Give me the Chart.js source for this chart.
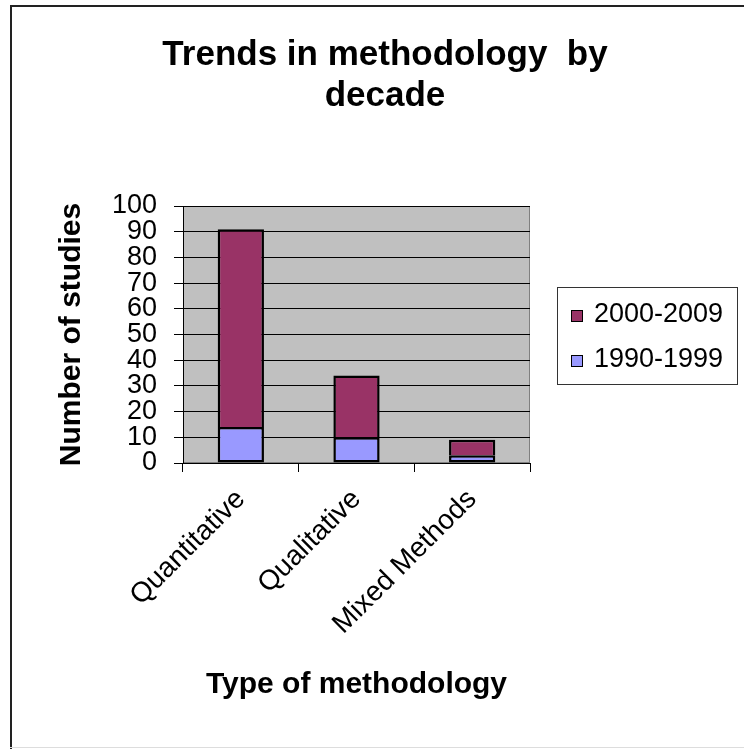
<!DOCTYPE html>
<html>
<head>
<meta charset="utf-8">
<title>Trends in methodology by decade</title>
<script src="https://cdn.jsdelivr.net/npm/chart.js@4.4.1/dist/chart.umd.min.js"></script>
<style>
    body { margin: 0; background: #ffffff; }
    #wrap { width: 744px; height: 749px; }
</style>
</head>
<body>
<div id="wrap"><canvas id="trendChart" width="744" height="749"></canvas></div>
<script>
// Chart data
const categories = ["Quantitative", "Qualitative", "Mixed Methods"];
const seriesLabels = ["1990-1999", "2000-2009"];
const studies1990s = [14, 10, 3];
const studies2000s = [77, 24, 6];
const seriesColors = ["#9999ff", "#993366"];
const yMin = 0;
const yMax = 100;
const yStep = 10;

const FONT = "'Liberation Sans', Arial, sans-serif";

// White page, thin frame and the grey plot area behind the bars
const backgroundPlugin = {
    id: "background",
    beforeDraw(chart) {
        const ctx = chart.ctx;
        const area = chart.chartArea;
        ctx.save();
        ctx.fillStyle = "#ffffff";
        ctx.fillRect(0, 0, chart.width, chart.height);

        // frame round the picture (left and top dark, bottom faint)
        ctx.fillStyle = "#222222";
        ctx.fillRect(10, 5, chart.width - 10, 2);
        ctx.fillRect(10, 5, 2, chart.height - 5);
        ctx.fillStyle = "#dddddd";
        ctx.fillRect(10, chart.height - 2, chart.width - 10, 1);

        ctx.fillStyle = "#c0c0c0";
        ctx.fillRect(area.left, area.top, area.right - area.left, area.bottom - area.top);
        ctx.strokeStyle = "#808080";
        ctx.lineWidth = 1;
        ctx.strokeRect(area.left + 0.5, area.top + 0.5, area.right - area.left - 1, area.bottom - area.top - 1);
        ctx.restore();
    }
};

// Boxed legend on the right, newest decade first like the original
const boxLegendPlugin = {
    id: "boxLegend",
    afterDraw(chart) {
        const ctx = chart.ctx;
        const area = chart.chartArea;
        const left = area.right + 27;
        const top = 287;
        const width = 180;
        const height = 97;
        ctx.save();
        ctx.strokeStyle = "#333333";
        ctx.lineWidth = 1;
        ctx.strokeRect(left + 0.5, top + 0.5, width, height);

        const items = chart.data.datasets.slice().reverse();
        ctx.font = "27px " + FONT;
        ctx.textBaseline = "alphabetic";
        ctx.textAlign = "left";
        items.forEach((ds, i) => {
            const baseY = top + 35 + i * 45;
            ctx.fillStyle = ds.backgroundColor;
            ctx.fillRect(left + 14, baseY - 12, 12, 12);
            ctx.strokeStyle = "#000000";
            ctx.strokeRect(left + 14.5, baseY - 11.5, 11, 11);
            ctx.fillStyle = "#000000";
            ctx.fillText(ds.label, left + 37, baseY);
        });
        ctx.restore();
    }
};

function makeDataset(label, values, color, skipped) {
    return {
        label: label,
        data: values,
        backgroundColor: color,
        borderColor: "#000000",
        borderWidth: 2.5,
        borderSkipped: skipped
    };
}

const ctx = document.getElementById("trendChart").getContext("2d");

const chart = new Chart(ctx, {
    type: "bar",
    data: {
        labels: categories,
        datasets: [
            makeDataset(seriesLabels[0], studies1990s, seriesColors[0], false),
            // top segment shares the edge drawn by the one below it
            makeDataset(seriesLabels[1], studies2000s, seriesColors[1], "bottom")
        ]
    },
    options: {
        responsive: false,
        animation: false,
        layout: { padding: { left: 26, right: 0, top: 0, bottom: 0 } },
        datasets: { bar: { categoryPercentage: 1, barPercentage: 0.4 } },
        plugins: {
            legend: { display: false },
            tooltip: { enabled: false },
            title: {
                display: true,
                text: ["Trends in methodology  by", "decade"],
                color: "#000000",
                font: { family: FONT, size: 35, weight: "bold", lineHeight: 41 / 35 },
                padding: { top: 35, bottom: 89 }
            }
        },
        scales: {
            x: {
                stacked: true,
                grid: {
                    display: true,
                    drawOnChartArea: false,
                    drawTicks: true,
                    tickLength: 9,
                    color: "#000000",
                    offset: true
                },
                border: { display: true, color: "#000000", width: 1 },
                ticks: {
                    color: "#000000",
                    font: { family: FONT, size: 28 },
                    minRotation: 45,
                    maxRotation: 45,
                    padding: 11,
                    autoSkip: false
                },
                title: {
                    display: true,
                    text: "Type of methodology",
                    color: "#000000",
                    font: { family: FONT, size: 30, weight: "bold" },
                    padding: { top: 0, bottom: 46 }
                },
                afterFit: (scale) => { scale.height = 286; }
            },
            y: {
                stacked: true,
                min: yMin,
                max: yMax,
                ticks: {
                    stepSize: yStep,
                    autoSkip: false,
                    color: "#000000",
                    font: { family: FONT, size: 27 },
                    padding: 17
                },
                grid: { color: "#000000", tickLength: 9 },
                border: { display: true, color: "#000000", width: 1 },
                title: {
                    display: true,
                    text: "Number of studies",
                    color: "#000000",
                    font: { family: FONT, size: 30, weight: "bold" },
                    padding: { top: 28, bottom: 0 }
                },
                afterFit: (scale) => { scale.width = 157; }
            },
            // empty axis that keeps room on the right for the legend box
            spacer: {
                position: "right",
                display: true,
                grid: { display: false },
                border: { display: false },
                ticks: { display: false },
                afterFit: (scale) => { scale.width = 214; }
            }
        }
    },
    plugins: [backgroundPlugin, boxLegendPlugin]
});
</script>
</body>
</html>
